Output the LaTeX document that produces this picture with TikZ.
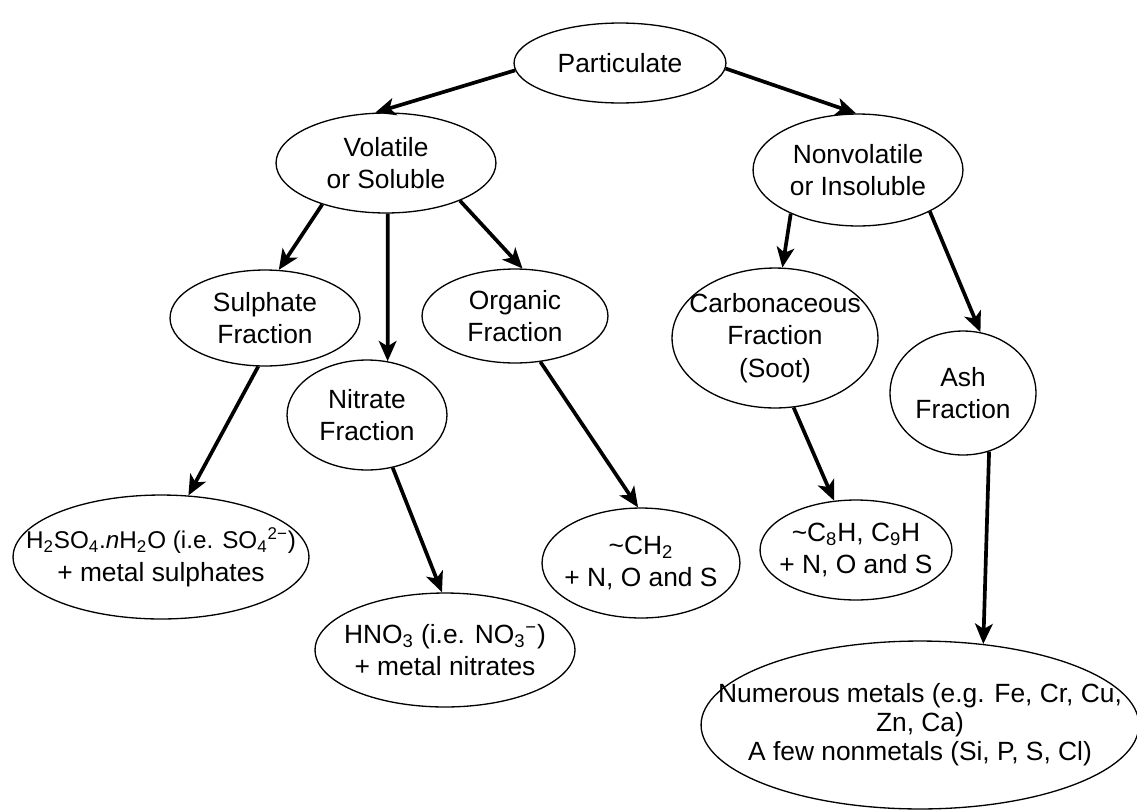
\documentclass[tikz,border=0pt]{standalone}
\usepackage{fontspec}
\setmainfont{Liberation Sans}
\usetikzlibrary{shapes.geometric,arrows.meta}
\tikzset{every picture/.style={line width=0.75pt}}
\tikzset{
	frac/.style 2 args={ellipse,draw,align=center,inner sep=-2cm,
		minimum width=#1*0.04cm,minimum height=#2*0.04cm},
	link/.style={line width=2.1pt,-{Stealth[length=11.5pt,width=10pt,inset=3pt]}}
}
\begin{document}
\begin{tikzpicture}[x=0.02cm,y=-0.02cm,font=\fontsize{15}{18.5}\selectfont]
\useasboundingbox (0,0) rectangle (1137,809);
%
\node[frac={106}{40}] (P) at (620,63) {Particulate};
%
\node[frac={110}{50}] (V) at (386,163) {Volatile\\or Soluble};
\node[frac={105}{56}] (N) at (858,170) {Nonvolatile\\or Insoluble};
%
\node[frac={95}{48}] (S) at (265,318) {Sulphate\\Fraction};
\node[frac={80}{55}] (T) at (367,415) {Nitrate\\Fraction};
\node[frac={93}{47}] (O) at (515,316) {Organic\\Fraction};
\node[frac={103}{70}] (C) at (775,338) {Carbonaceous\\Fraction\\(Soot)};
\node[frac={73}{62}] (A) at (963,393) {Ash\\Fraction};
%
\node[frac={148}{62}] (S1) at (161,557) {{\fontsize{13.8}{18.5}\selectfont H\textsubscript{2}SO\textsubscript{4}.\textit{n}H\textsubscript{2}O (i.e. SO\textsubscript{4}\textsuperscript{2−})}\\+ metal sulphates};
\node[frac={130}{57}] (T1) at (445,650) {HNO\textsubscript{3} (i.e. NO\textsubscript{3}\textsuperscript{−})\\+ metal nitrates};
\node[frac={99}{55}] (O1) at (641,563) {\textasciitilde CH\textsubscript{2}\\+ N, O and S};
\node[frac={96}{50}] (C1) at (856,550) {\textasciitilde C\textsubscript{8}H, C\textsubscript{9}H\\+ N, O and S};
\node[frac={219}{84},font=\fontsize{15}{16.5}\selectfont] (A1) at (920,725) {Numerous metals (e.g. Fe, Cr, Cu,\\Zn, Ca)\\A few nonmetals (Si, P, S, Cl)};
%
\foreach \Source/\Target in {%
	P.184/V.102,
	P.-3/N.92,
	V.-147/S.74,
	V.-88/T.69,
	V.-27.5/O.81,
	N.-147.5/C.84.5,
	N.-30/A.74,
	S.-98.5/S1.66,
	T.-64/T1.93,
	O.-61.5/O1.93,
	C.-75/C1.114,
	A.-66.5/A1.52%
	}
\draw[link] (\Source) to (\Target);
\end{tikzpicture}
\end{document}
